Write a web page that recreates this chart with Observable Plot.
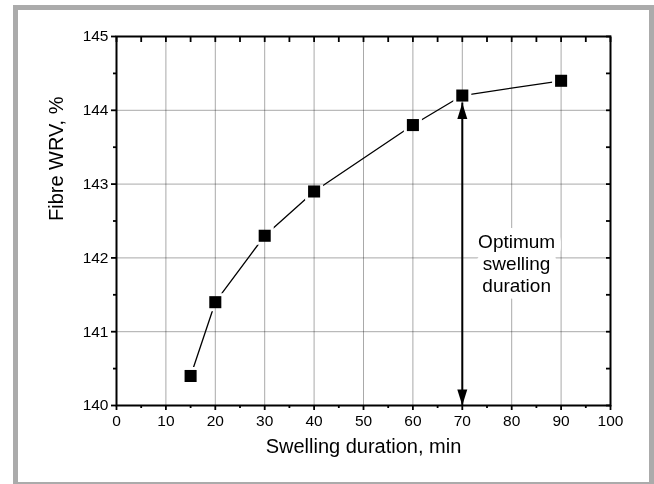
<!DOCTYPE html>
<html>
<head>
<meta charset="utf-8">
<script src="https://cdn.jsdelivr.net/npm/d3@7"></script>
<script src="https://cdn.jsdelivr.net/npm/@observablehq/plot@0.6"></script>
<style>
  html, body { margin: 0; padding: 0; width: 654px; height: 484px; overflow: hidden; background: #fff; }
  #frame { position: absolute; left: 13px; top: 5px; width: 641px; height: 482px; box-sizing: border-box; border: 5px solid #ababab; background: #fff; }
  #chart { position: absolute; left: 0; top: 0; }
</style>
</head>
<body>
<div id="frame"></div>
<div id="chart"></div>
<script>
// Data
const duration = [15, 20, 30, 40, 60, 70, 90];
const wrv = [140.4, 141.4, 142.3, 142.9, 143.8, 144.2, 144.4];

// Ticks / grid
const xTicks = [0, 10, 20, 30, 40, 50, 60, 70, 80, 90, 100];
const xMinor = [5, 15, 25, 35, 45, 55, 65, 75, 85, 95];
const yTicks = [140, 141, 142, 143, 144, 145];
const yMinor = [140.5, 141.5, 142.5, 143.5, 144.5];
const xGrid = [10, 20, 30, 40, 50, 60, 70, 80, 90];
const yGrid = [141, 142, 143, 144];

// Annotation
const optimumX = 70;
const arrowTop = 144.1;
const arrowBottom = 140;
const noteText = "Optimum\nswelling\nduration";
const noteX = 81;
const noteY = 141.93;

const xTitle = "Swelling duration, min";
const yTitle = "Fibre WRV, %";

const data = duration.map((d, i) => ({x: d, y: wrv[i]}));
const heads = [{x: optimumX, y: arrowTop, r: 0}, {x: optimumX, y: arrowBottom, r: 180}];

const headShape = {
  draw(ctx, l) {
    ctx.moveTo(0, 0);
    ctx.lineTo(-5, l);
    ctx.lineTo(5, l);
    ctx.closePath();
  }
};

const font = "'Liberation Sans', Arial, Helvetica, sans-serif";

const chart = Plot.plot({
  width: 654,
  height: 484,
  marginLeft: 116,
  marginRight: 44,
  marginTop: 36,
  marginBottom: 79,
  x: {domain: [0, 100]},
  y: {domain: [140, 145]},
  style: {background: "transparent", fontFamily: font, color: "black"},
  marks: [
    Plot.line(data, {x: "x", y: "y", stroke: "black", strokeWidth: 1.3}),
    Plot.dot(data, {x: "x", y: "y", symbol: "square", r: 6.8, fill: "black", stroke: "white", strokeWidth: 6, paintOrder: "stroke"}),
    Plot.ruleX(xGrid, {x: d => d, stroke: "#a9a9a9", strokeWidth: 1, mixBlendMode: "multiply"}),
    Plot.ruleY(yGrid, {y: d => d, stroke: "#a9a9a9", strokeWidth: 1, mixBlendMode: "multiply"}),
    Plot.text([noteText], {x: noteX, y: noteY, text: d => d, fontSize: 19, lineHeight: 1.17, fill: "black", stroke: "white", strokeWidth: 14, paintOrder: "stroke"}),
    Plot.ruleX([optimumX], {x: d => d, y1: arrowBottom, y2: arrowTop, stroke: "black", strokeWidth: 2}),
    Plot.vector(heads, {x: "x", y: "y", rotate: "r", length: 16, anchor: "start", shape: headShape, fill: "black", stroke: "none"}),
    Plot.axisX(xTicks, {anchor: "bottom", tickSize: 5, tickPadding: 4, fontSize: 15.5, strokeWidth: 1.8, tickFormat: "d", label: null}),
    Plot.axisX(xMinor, {anchor: "bottom", tickSize: 3, text: null, strokeWidth: 1.8, label: null}),
    Plot.axisX([...xTicks, ...xMinor], {anchor: "top", tickSize: -5, text: null, strokeWidth: 1.8, label: null}),
    Plot.axisY(yTicks, {anchor: "left", tickSize: 5, tickPadding: 3, fontSize: 15.5, strokeWidth: 1.8, tickFormat: "d", label: null}),
    Plot.axisY(yMinor, {anchor: "left", tickSize: 3, text: null, strokeWidth: 1.8, label: null}),
    Plot.axisY([...yTicks, ...yMinor], {anchor: "right", tickSize: -5, text: null, strokeWidth: 1.8, label: null}),
    Plot.frame({stroke: "black", strokeWidth: 2}),
    Plot.text([xTitle], {frameAnchor: "bottom", dy: 47, fontSize: 20, fill: "black"}),
    Plot.text([yTitle], {frameAnchor: "left", dx: -60, rotate: -90, fontSize: 20, fill: "black"})
  ]
});
document.getElementById("chart").appendChild(chart);
</script>
</body>
</html>
